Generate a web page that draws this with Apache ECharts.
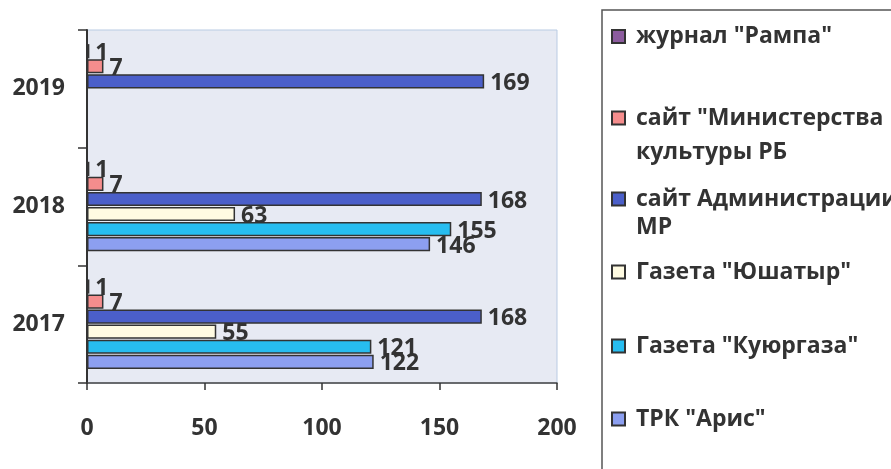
<!DOCTYPE html>
<html>
<head>
<meta charset="utf-8">
<script src="https://cdn.jsdelivr.net/npm/echarts@6/dist/echarts.min.js"></script>
<style>
html, body { margin: 0; padding: 0; background: #fff; }
#container { width: 891px; height: 469px; }
</style>
</head>
<body>
<div id="container"></div>
<script>
// данные
var years = ['2017', '2018', '2019'];
var names = ['журнал "Рампа"', 'сайт "Министерства культуры РБ', 'сайт Администрации МР',
             'Газета "Юшатыр"', 'Газета "Куюргаза"', 'ТРК "Арис"'];
var rampa = [1, 1, 1];
var minkult = [7, 7, 7];
var admin = [168, 168, 169];
var yushatyr = [55, 63, null];
var kuyurgaza = [121, 155, null];
var aris = [122, 146, null];
var xTicks = [0, 50, 100, 150, 200];

var colors = ['#8c5c9e', '#f58d8d', '#4b5fc9', '#fffbe2', '#27bdf0', '#8c9ff0'];
var values = [rampa, minkult, admin, yushatyr, kuyurgaza, aris];

var font = 'Open Sans';
var textColor = '#333';

var myChart = echarts.init(document.getElementById('container'));

// легенда: каждая строка отдельно, чтобы повторить интервалы
// для двухстрочных подписей пустая первая строка сдвигает текст вниз к значку
var legendPos = [
    { c: 36.5, lh: 30 },
    { c: 118, lh: 34, text: '\nсайт "Министерства\nкультуры РБ' },
    { c: 199, lh: 28, text: '\nсайт Администрации\nМР' },
    { c: 272, lh: 30 },
    { c: 346, lh: 30 },
    { c: 419, lh: 30 }
];
var legends = legendPos.map(function (p, i) {
    return {
        data: [{ name: names[i], textStyle: { lineHeight: p.lh } }],
        left: 611,
        top: p.text ? p.c - 1.5 * p.lh : p.c - p.lh / 2,
        padding: 0,
        orient: 'vertical',
        selectedMode: false,
        icon: 'rect',
        itemWidth: 13,
        itemHeight: 13,
        formatter: function (n) { return p.text || n; },
        textStyle: { fontFamily: font, fontSize: 23, fontWeight: 'bold', color: textColor, padding: [0, 0, 0, 6] }
    };
});

var series = names.map(function (n, i) {
    return {
        name: n,
        type: 'bar',
        data: values[i],
        barGap: '6%',
        barCategoryGap: '24%',
        itemStyle: { color: colors[i], borderColor: '#333', borderWidth: 1.5 },
        label: {
            show: true,
            position: 'right',
            distance: 6,
            offset: [0, 2],
            fontFamily: font,
            fontSize: 23,
            fontWeight: 'bold',
            color: textColor
        }
    };
});

myChart.setOption({
    animation: false,
    color: colors,
    legend: legends,
    grid: {
        left: 87, right: 334, top: 30, bottom: 86,
        show: true,
        backgroundColor: '#e7eaf3',
        borderColor: '#b9cbe3',
        borderWidth: 1
    },
    xAxis: {
        type: 'value',
        min: xTicks[0],
        max: xTicks[xTicks.length - 1],
        interval: 50,
        splitLine: { show: false },
        axisLine: { show: true, lineStyle: { color: '#444', width: 1.5 } },
        axisTick: { show: true, length: 7, lineStyle: { color: '#333', width: 1.5 } },
        axisLabel: { margin: 34, fontFamily: font, fontSize: 23, fontWeight: 'bold', color: textColor }
    },
    yAxis: {
        type: 'category',
        data: years,
        axisLine: { show: true, lineStyle: { color: '#333', width: 2 } },
        axisTick: { show: true, length: 9, lineStyle: { color: '#333', width: 1.5 } },
        axisLabel: { margin: 22, fontFamily: font, fontSize: 23, fontWeight: 'bold', color: textColor }
    },
    graphic: [{
        type: 'rect',
        shape: { x: 602, y: 10, width: 400, height: 500 },
        style: { fill: 'none', stroke: '#555', lineWidth: 1.5 },
        z: -1
    }],
    series: series
});
</script>
</body>
</html>
